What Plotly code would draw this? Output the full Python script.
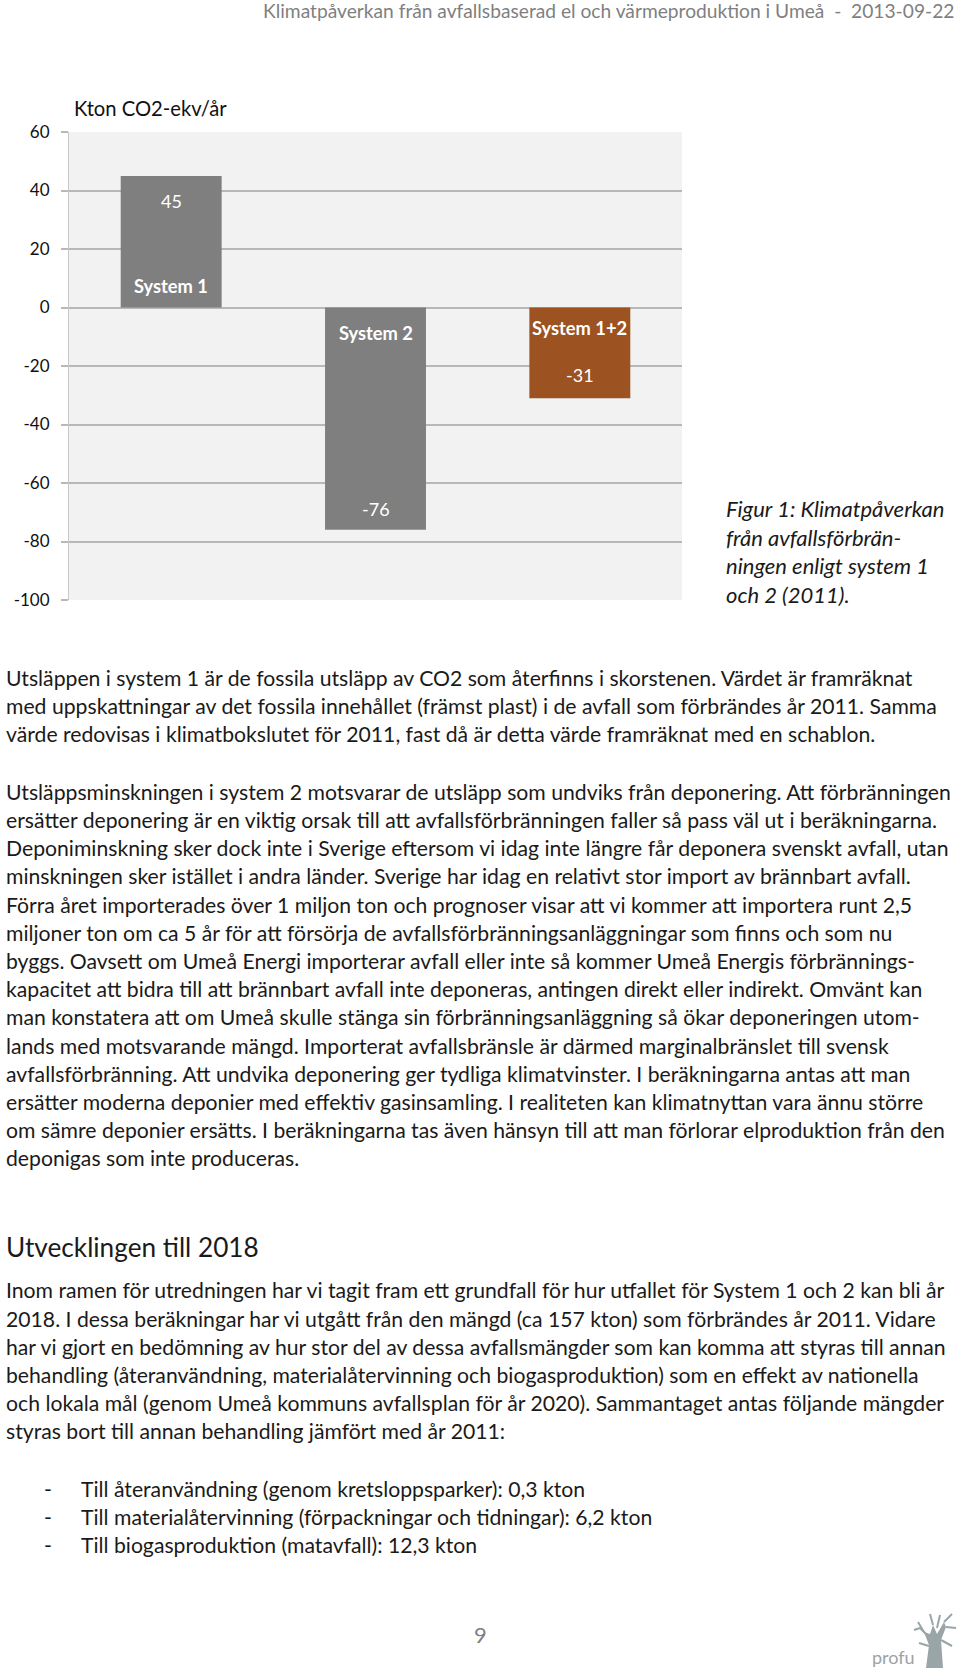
import plotly.graph_objects as go

# ---------------- data ----------------
categories = ["System 1", "System 2", "System 1+2"]
values = [45, -76, -31]
value_labels = ["45", "-76", "-31"]
tick_vals = [-100, -80, -60, -40, -20, 0, 20, 40, 60]
tick_text = ["-100", "-80", "-60", "-40", "-20", "0", "20", "40", "60"]
y_title = "Kton CO2-ekv/år"

header = "Klimatpåverkan från avfallsbaserad el och värmeproduktion i Umeå  -  2013-09-22"
caption_lines = ["Figur 1: Klimatpåverkan", "från avfallsförbrän-", "ningen enligt system 1", "och 2 (2011)."]
para1 = [
    "Utsläppen i system 1 är de fossila utsläpp av CO2 som återfinns i skorstenen. Värdet är framräknat",
    "med uppskattningar av det fossila innehållet (främst plast) i de avfall som förbrändes år 2011. Samma",
    "värde redovisas i klimatbokslutet för 2011, fast då är detta värde framräknat med en schablon.",
]
para2 = [
    "Utsläppsminskningen i system 2 motsvarar de utsläpp som undviks från deponering. Att förbränningen",
    "ersätter deponering är en viktig orsak till att avfallsförbränningen faller så pass väl ut i beräkningarna.",
    "Deponiminskning sker dock inte i Sverige eftersom vi idag inte längre får deponera svenskt avfall, utan",
    "minskningen sker istället i andra länder. Sverige har idag en relativt stor import av brännbart avfall.",
    "Förra året importerades över 1 miljon ton och prognoser visar att vi kommer att importera runt 2,5",
    "miljoner ton om ca 5 år för att försörja de avfallsförbränningsanläggningar som finns och som nu",
    "byggs. Oavsett om Umeå Energi importerar avfall eller inte så kommer Umeå Energis förbrännings-",
    "kapacitet att bidra till att brännbart avfall inte deponeras, antingen direkt eller indirekt. Omvänt kan",
    "man konstatera att om Umeå skulle stänga sin förbränningsanläggning så ökar deponeringen utom-",
    "lands med motsvarande mängd. Importerat avfallsbränsle är därmed marginalbränslet till svensk",
    "avfallsförbränning. Att undvika deponering ger tydliga klimatvinster. I beräkningarna antas att man",
    "ersätter moderna deponier med effektiv gasinsamling. I realiteten kan klimatnyttan vara ännu större",
    "om sämre deponier ersätts. I beräkningarna tas även hänsyn till att man förlorar elproduktion från den",
    "deponigas som inte produceras.",
]
heading = "Utvecklingen till 2018"
para3 = [
    "Inom ramen för utredningen har vi tagit fram ett grundfall för hur utfallet för System 1 och 2 kan bli år",
    "2018. I dessa beräkningar har vi utgått från den mängd (ca 157 kton) som förbrändes år 2011. Vidare",
    "har vi gjort en bedömning av hur stor del av dessa avfallsmängder som kan komma att styras till annan",
    "behandling (återanvändning, materialåtervinning och biogasproduktion) som en effekt av nationella",
    "och lokala mål (genom Umeå kommuns avfallsplan för år 2020). Sammantaget antas följande mängder",
    "styras bort till annan behandling jämfört med år 2011:",
]
bullets = [
    "Till återanvändning (genom kretsloppsparker): 0,3 kton",
    "Till materialåtervinning (förpackningar och tidningar): 6,2 kton",
    "Till biogasproduktion (matavfall): 12,3 kton",
]
page_number = "9"
logo_text = "profu"

# ---------------- styles ----------------
bar_colors = ["#7f7f7f", "#7f7f7f", "#9c5221"]
value_shift = [-25, 21, 23]
label_shift = [22, -25, -20]

W, H = 960, 1671
L, R, T, B = 69, 278, 132, 1071
PW = W - L - R
PH = H - T - B


def px(x):
    return (x - L) / PW


def py(y):
    return (H - B - y) / PH


FONT = "Lato, 'Open Sans', sans-serif"
BODY = dict(family=FONT, size=21.2, color="#1a1a1a")

fig = go.Figure()
fig.add_trace(go.Bar(
    x=categories, y=values, marker=dict(color=bar_colors, line=dict(width=0)),
    hoverinfo="skip", showlegend=False,
))

ann = []
for c, v, t, s in zip(categories, values, value_labels, value_shift):
    ann.append(dict(x=c, y=v, xref="x", yref="y", text=t, showarrow=False,
                    yshift=s, font=dict(family=FONT, size=18, color="white")))
for c, s in zip(categories, label_shift):
    ann.append(dict(x=c, y=0, xref="x", yref="y", text="<b>%s</b>" % c, showarrow=False,
                    yshift=s, font=dict(family=FONT, size=18.3, color="white")))

ann.append(dict(x=px(72), y=py(108.5), xref="paper", yref="paper", xanchor="left", yanchor="middle",
                text=y_title, showarrow=False, font=dict(family=FONT, size=20.2, color="#111")))

ann.append(dict(x=px(956), y=py(10), xref="paper", yref="paper", xanchor="right", yanchor="middle",
                text=header, showarrow=False, font=dict(family=FONT, size=19.2, color="#7f7f7f")))

for i, line in enumerate(caption_lines):
    ann.append(dict(x=px(724), y=py(508.5 + i * 28.5), xref="paper", yref="paper", xanchor="left",
                    yanchor="middle", text="<i>%s</i>" % line, showarrow=False,
                    font=dict(family=FONT, size=22, color="#1a1a1a")))


def add_par(lines, y0):
    for i, line in enumerate(lines):
        ann.append(dict(x=px(4), y=py(y0 + i * 28.2), xref="paper", yref="paper", xanchor="left",
                        yanchor="middle", text=line, showarrow=False, font=BODY))


add_par(para1, 677.7)
add_par(para2, 791.7)
ann.append(dict(x=px(4), y=py(1246.6), xref="paper", yref="paper", xanchor="left", yanchor="middle",
                text=heading, showarrow=False, font=dict(family=FONT, size=26.2, color="#1a1a1a")))
add_par(para3, 1290.3)
for i, line in enumerate(bullets):
    yy = py(1488.5 + i * 28.2)
    ann.append(dict(x=px(42), y=yy, xref="paper", yref="paper", xanchor="left", yanchor="middle",
                    text="-", showarrow=False, font=BODY))
    ann.append(dict(x=px(78.5), y=yy, xref="paper", yref="paper", xanchor="left", yanchor="middle",
                    text=line, showarrow=False, font=BODY))

ann.append(dict(x=px(480), y=py(1634), xref="paper", yref="paper", xanchor="center", yanchor="middle",
                text=page_number, showarrow=False, font=dict(family=FONT, size=22, color="#808080")))
ann.append(dict(x=px(893), y=py(1657), xref="paper", yref="paper", xanchor="center", yanchor="middle",
                text=logo_text, showarrow=False, font=dict(family=FONT, size=18, color="#9aa3a6")))


# simple tree logo (decorative)
def pth(points, close=True):
    s = "M " + " L ".join("%f,%f" % (px(a), py(b)) for a, b in points)
    return s + (" Z" if close else "")


logo_col = "#9aa5a8"
shapes = [
    dict(type="path", xref="paper", yref="paper",
         path=pth([(926, 1668), (929, 1645), (924, 1632), (930, 1634), (933, 1625), (937, 1634),
                   (944, 1622), (946, 1627), (941, 1640), (943, 1668)]),
         fillcolor=logo_col, line=dict(width=0)),
]
branches = [[(928, 1636), (920, 1628)], [(924, 1632), (918, 1622)], [(933, 1625), (930, 1614)],
            [(937, 1628), (940, 1615)], [(944, 1622), (952, 1614)], [(946, 1627), (956, 1628)],
            [(929, 1646), (919, 1643)], [(941, 1640), (952, 1646)], [(920, 1628), (914, 1630)]]
for b in branches:
    shapes.append(dict(type="path", xref="paper", yref="paper", path=pth(b, close=False),
                       line=dict(color=logo_col, width=2)))

fig.update_layout(
    width=W, height=H, margin=dict(l=L, r=R, t=T, b=B, pad=0),
    paper_bgcolor="white", plot_bgcolor="#f2f2f2",
    bargap=0.506, annotations=ann, shapes=shapes,
    xaxis=dict(range=[-0.5, 2.5], showticklabels=False, showgrid=False, zeroline=False,
               showline=False, ticks="", fixedrange=True),
    yaxis=dict(range=[-100, 60], tickvals=tick_vals, ticktext=tick_text, showgrid=True,
               gridcolor="#b8b8b8", gridwidth=1.5, zeroline=True, zerolinecolor="#b8b8b8",
               zerolinewidth=1.5, showline=True, linecolor="#c8c8c8", linewidth=1,
               ticks="outside", ticklen=7, tickcolor="#b8b8b8", tickwidth=1.5,
               ticklabelstandoff=8,
               tickfont=dict(family=FONT, size=17, color="#111"), fixedrange=True),
)

fig.write_html("out.html", config={"displayModeBar": False},
               post_script="document.body.style.margin='0';")
